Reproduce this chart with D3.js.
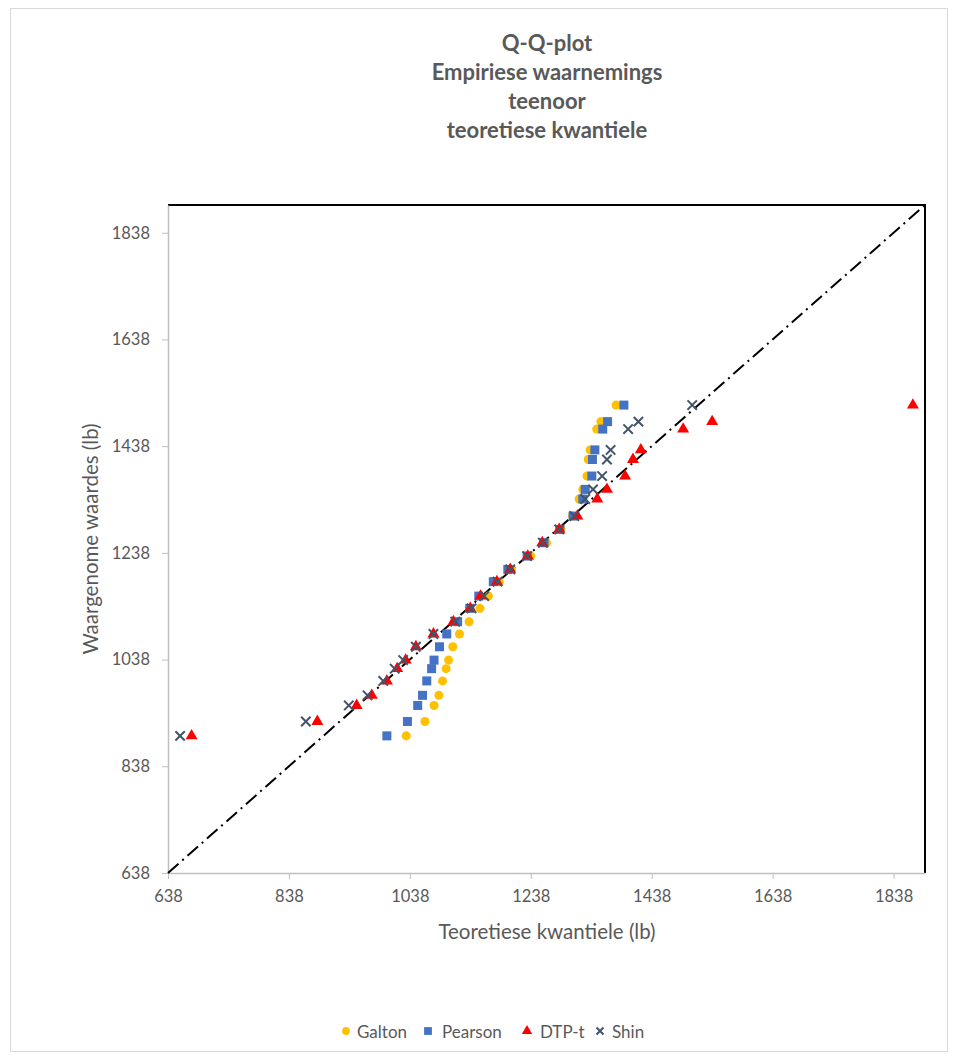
<!DOCTYPE html>
<html>
<head>
<meta charset="utf-8">
<script src="https://cdn.jsdelivr.net/npm/d3@7"></script>
<style>
  body { margin: 0; background: #fff; }
  text { font-family: Lato, "Open Sans", sans-serif; fill: #595959; }
</style>
</head>
<body>
<svg id="chart" width="959" height="1057"></svg>
<script>
// empirical (observed) values, shared by every series
let observed = [895, 922, 952, 971, 998, 1021, 1037, 1062, 1086, 1109, 1134, 1157, 1184,
  1207, 1232, 1257, 1282, 1307, 1339, 1357, 1382, 1413, 1431, 1470, 1484, 1515]

// theoretical quantiles per method
let galton = [1032, 1063, 1078, 1086, 1092, 1098, 1102, 1109, 1120, 1136, 1154, 1168, 1186,
  1206, 1238, 1264, 1288, 1307, 1318, 1324, 1331, 1333, 1336, 1347, 1354, 1379]
let pearson = [1000, 1034, 1051, 1059, 1066, 1074, 1078, 1087, 1099, 1117, 1137, 1152, 1176,
  1200, 1232, 1260, 1286, 1308, 1324, 1328, 1339, 1340, 1344, 1357, 1365, 1392]
let dtpt = [677, 885, 950, 975, 1000, 1017, 1031, 1048, 1077, 1110, 1138, 1155, 1182,
  1204, 1233, 1257, 1285, 1315, 1348, 1364, 1394, 1407, 1420, 1490, 1538, 1870]
let shin = [658, 866, 937, 968, 994, 1013, 1027, 1048, 1077, 1113, 1140, 1161, 1183,
  1204, 1232, 1258, 1285, 1310, 1328, 1341, 1356, 1364, 1370, 1399, 1416, 1505]

let tickValues = [638, 838, 1038, 1238, 1438, 1638, 1838]
let axisMin = 638
let axisMax = 1890

let titleLines = ['Q-Q-plot', 'Empiriese waarnemings', 'teenoor', 'teoretiese kwantiele']

let series = [
  { name: 'Galton', values: galton, color: '#FFC000', symbol: d3.symbolCircle, size: 64 },
  { name: 'Pearson', values: pearson, color: '#4472C4', symbol: d3.symbolSquare, size: 81 },
  { name: 'DTP-t', values: dtpt, color: '#FF0000', symbol: d3.symbolTriangle, size: 62 },
  { name: 'Shin', values: shin, color: '#44546A', symbol: 'x', size: 4.7 }
]

let svg = d3.select('#chart')
let margin = { left: 168, top: 205, right: 925, bottom: 873 }

// outer chart border
svg.append('rect')
  .attr('x', 10.5).attr('y', 8.5)
  .attr('width', 937).attr('height', 1043)
  .attr('fill', 'none').attr('stroke', '#D9D9D9')

let x = d3.scaleLinear().domain([axisMin, axisMax]).range([margin.left, margin.right])
let y = d3.scaleLinear().domain([axisMin, axisMax]).range([margin.bottom, margin.top])

// plot frame: top and right in black
svg.append('path')
  .attr('d', `M${margin.left},${margin.top}H${margin.right}V${margin.bottom}`)
  .attr('fill', 'none').attr('stroke', '#000').attr('stroke-width', 2)

let fmt = d3.format('d')
let xAxis = svg.append('g')
  .attr('transform', `translate(0,${margin.bottom})`)
  .call(d3.axisBottom(x).tickValues(tickValues).tickFormat(fmt)
    .tickSize(6).tickPadding(11).tickSizeOuter(0))
let yAxis = svg.append('g')
  .attr('transform', `translate(${margin.left},0)`)
  .call(d3.axisLeft(y).tickValues(tickValues).tickFormat(fmt)
    .tickSize(6).tickPadding(12).tickSizeOuter(0))

;[xAxis, yAxis].forEach(g => {
  g.select('.domain').attr('stroke', '#BFBFBF').attr('stroke-width', 1.5)
  g.selectAll('.tick line').attr('stroke', '#BFBFBF')
  g.selectAll('.tick text')
    .style('font-family', 'Lato, sans-serif')
    .style('font-size', '16.5px')
    .attr('fill', '#595959')
})

// y = x reference line
svg.append('line')
  .attr('x1', x(axisMin)).attr('y1', y(axisMin))
  .attr('x2', x(axisMax)).attr('y2', y(axisMax))
  .attr('stroke', '#000').attr('stroke-width', 2)
  .attr('stroke-dasharray', '14,5,2,5')

function drawMarker(g, s) {
  if (s.symbol === 'x') {
    let r = s.size
    g.append('path')
      .attr('d', `M${-r},${-r}L${r},${r}M${-r},${r}L${r},${-r}`)
      .attr('stroke', s.color).attr('stroke-width', 2).attr('fill', 'none')
  } else {
    g.append('path')
      .attr('d', d3.symbol().type(s.symbol).size(s.size)())
      .attr('fill', s.color)
  }
}

series.forEach(s => {
  let layer = svg.append('g').attr('class', 'series')
  s.values.forEach((v, i) => {
    let g = layer.append('g')
      .attr('transform', `translate(${x(v)},${y(observed[i])})`)
    drawMarker(g, s)
  })
})

// title
svg.append('text')
  .attr('x', 547).attr('y', 51)
  .attr('text-anchor', 'middle')
  .style('font-size', '22px').style('font-weight', 'bold')
  .selectAll('tspan')
  .data(titleLines)
  .join('tspan')
  .attr('x', 547)
  .attr('dy', (d, i) => i === 0 ? 0 : 29)
  .text(d => d)

// axis titles
svg.append('text')
  .attr('x', 547).attr('y', 939)
  .attr('text-anchor', 'middle')
  .style('font-size', '20.5px')
  .text('Teoretiese kwantiele (lb)')
svg.append('text')
  .attr('transform', 'translate(98,539) rotate(-90)')
  .attr('text-anchor', 'middle')
  .style('font-size', '20.5px')
  .text('Waargenome waardes (lb)')

// legend
let legendX = [346, 428, 527, 600]
let legendTextX = [357, 442, 540, 612]
series.forEach((s, i) => {
  let g = svg.append('g').attr('transform', `translate(${legendX[i]},1031)`)
  let ls = Object.assign({}, s, { size: s.symbol === 'x' ? 3.5 : s.size * 0.75 })
  drawMarker(g, ls)
  g.append('text')
    .attr('x', legendTextX[i] - legendX[i]).attr('y', 6.5)
    .style('font-size', '17px')
    .text(s.name)
})
</script>
</body>
</html>
